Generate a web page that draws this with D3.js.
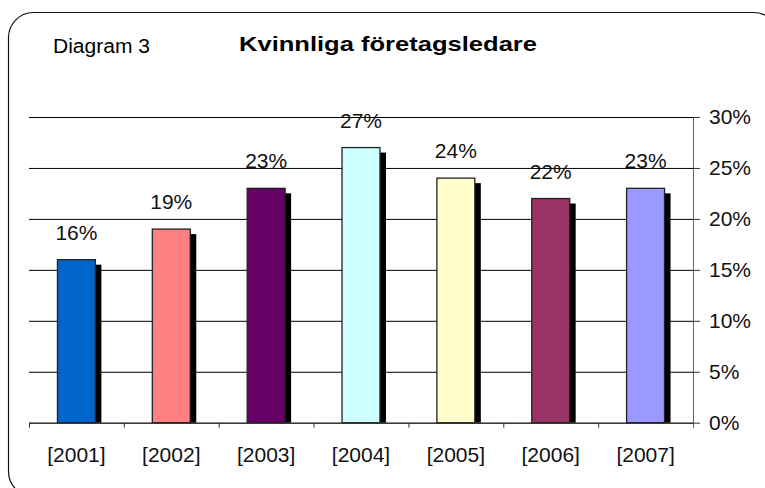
<!DOCTYPE html>
<html>
<head>
<meta charset="utf-8">
<script src="https://cdn.jsdelivr.net/npm/d3@7"></script>
<style>
  body { margin: 0; background: #fff; }
  text { font-family: "Liberation Sans", Arial, sans-serif; }
</style>
</head>
<body>
<div id="chart"></div>
<script>
// data
var years = ["[2001]", "[2002]", "[2003]", "[2004]", "[2005]", "[2006]", "[2007]"];
var shares = [0.16, 0.19, 0.23, 0.27, 0.24, 0.22, 0.23];
var barColors = ["#0066CC", "#FF8080", "#660066", "#CCFFFF", "#FFFFCC", "#993366", "#9999FF"];
var yTicks = [0, 0.05, 0.10, 0.15, 0.20, 0.25, 0.30];

var width = 765, height = 488;
var margin = {top: 117, right: 72, bottom: 66, left: 29};
var fs = 21;

var svg = d3.select("#chart")
  .append("svg")
  .attr("width", width)
  .attr("height", height);

// frame round the whole chart
svg.append("rect")
  .attr("x", 8.5).attr("y", 12.5)
  .attr("width", 770).attr("height", 484)
  .attr("rx", 25).attr("ry", 25)
  .attr("fill", "none")
  .attr("stroke", "#111")
  .attr("stroke-width", 1.2);

svg.append("text")
  .attr("x", 53).attr("y", 53)
  .attr("font-size", 20)
  .attr("textLength", 97).attr("lengthAdjust", "spacingAndGlyphs")
  .text("Diagram 3");

svg.append("text")
  .attr("x", 239).attr("y", 51)
  .attr("font-size", 21)
  .attr("font-weight", "bold")
  .attr("textLength", 298).attr("lengthAdjust", "spacingAndGlyphs")
  .text("Kvinnliga företagsledare");

var x0 = margin.left, x1 = width - margin.right;
var y0 = height - margin.bottom, y1 = margin.top;

var x = d3.scaleBand()
  .domain(years)
  .range([x0, x1])
  .paddingInner(0.6)
  .paddingOuter(0.3);

// category boundaries for the bottom tick marks
var xEdge = d3.scaleLinear().domain([0, years.length]).range([x0, x1]);

var y = d3.scaleLinear().domain([0, 0.30]).range([y0 + 0.7, y1]);

// gridlines
var grid = svg.append("g")
  .attr("transform", "translate(" + x1 + ",0)")
  .call(d3.axisLeft(y).tickValues(yTicks).tickSize(x1 - x0).tickFormat(""));
grid.select(".domain").remove();
grid.selectAll("line").attr("stroke", "#000");

var data = years.map(function (d, i) {
  return {year: d, value: shares[i], color: barColors[i]};
});

// shadows
svg.selectAll(".shadow")
  .data(data)
  .enter()
  .append("rect")
  .attr("class", "shadow")
  .attr("x", function (d) { return x(d.year) + 6; })
  .attr("y", function (d) { return y(d.value) + 5; })
  .attr("width", x.bandwidth())
  .attr("height", function (d) { return y(0) - y(d.value) - 5; })
  .attr("fill", "#000");

svg.selectAll(".bar")
  .data(data)
  .enter()
  .append("rect")
  .attr("class", "bar")
  .attr("x", function (d) { return x(d.year); })
  .attr("y", function (d) { return y(d.value); })
  .attr("width", x.bandwidth())
  .attr("height", function (d) { return y(0) - y(d.value); })
  .attr("fill", function (d) { return d.color; })
  .attr("stroke", "#222")
  .attr("stroke-width", 1.3);

// bottom axis: line + tick marks at category edges
var bottom = svg.append("g")
  .attr("transform", "translate(0," + y(0) + ")")
  .call(d3.axisBottom(xEdge).ticks(years.length).tickSize(5).tickSizeOuter(0).tickFormat(""));
bottom.selectAll("line, path").attr("stroke", "#333");

// category labels
var xLabels = svg.append("g")
  .attr("transform", "translate(0," + y(0) + ")")
  .call(d3.axisBottom(x).tickSize(0).tickPadding(24));
xLabels.select(".domain").remove();
xLabels.selectAll("text")
  .attr("font-size", fs)
  .attr("font-family", "Liberation Sans, Arial, sans-serif")
  .attr("fill", "#111");

// right axis
var right = svg.append("g")
  .attr("transform", "translate(" + x1 + ",0)")
  .call(d3.axisRight(y).tickValues(yTicks).tickSize(7).tickPadding(9).tickSizeOuter(0)
    .tickFormat(d3.format(".0%")));
right.select(".domain").attr("stroke", "#666").attr("d", "M0.5," + y1 + "V" + (y0 + 6));
right.selectAll("line").attr("stroke", "#333");
right.selectAll("text")
  .attr("font-size", fs)
  .attr("font-family", "Liberation Sans, Arial, sans-serif")
  .attr("fill", "#111");

// value labels
svg.selectAll(".val")
  .data(data)
  .enter()
  .append("text")
  .attr("class", "val")
  .attr("x", function (d) { return x(d.year) + x.bandwidth() / 2; })
  .attr("y", function (d) { return y(d.value) - 20; })
  .attr("text-anchor", "middle")
  .attr("font-size", fs)
  .attr("fill", "#111")
  .text(function (d) { return d3.format(".0%")(d.value); });
</script>
</body>
</html>
